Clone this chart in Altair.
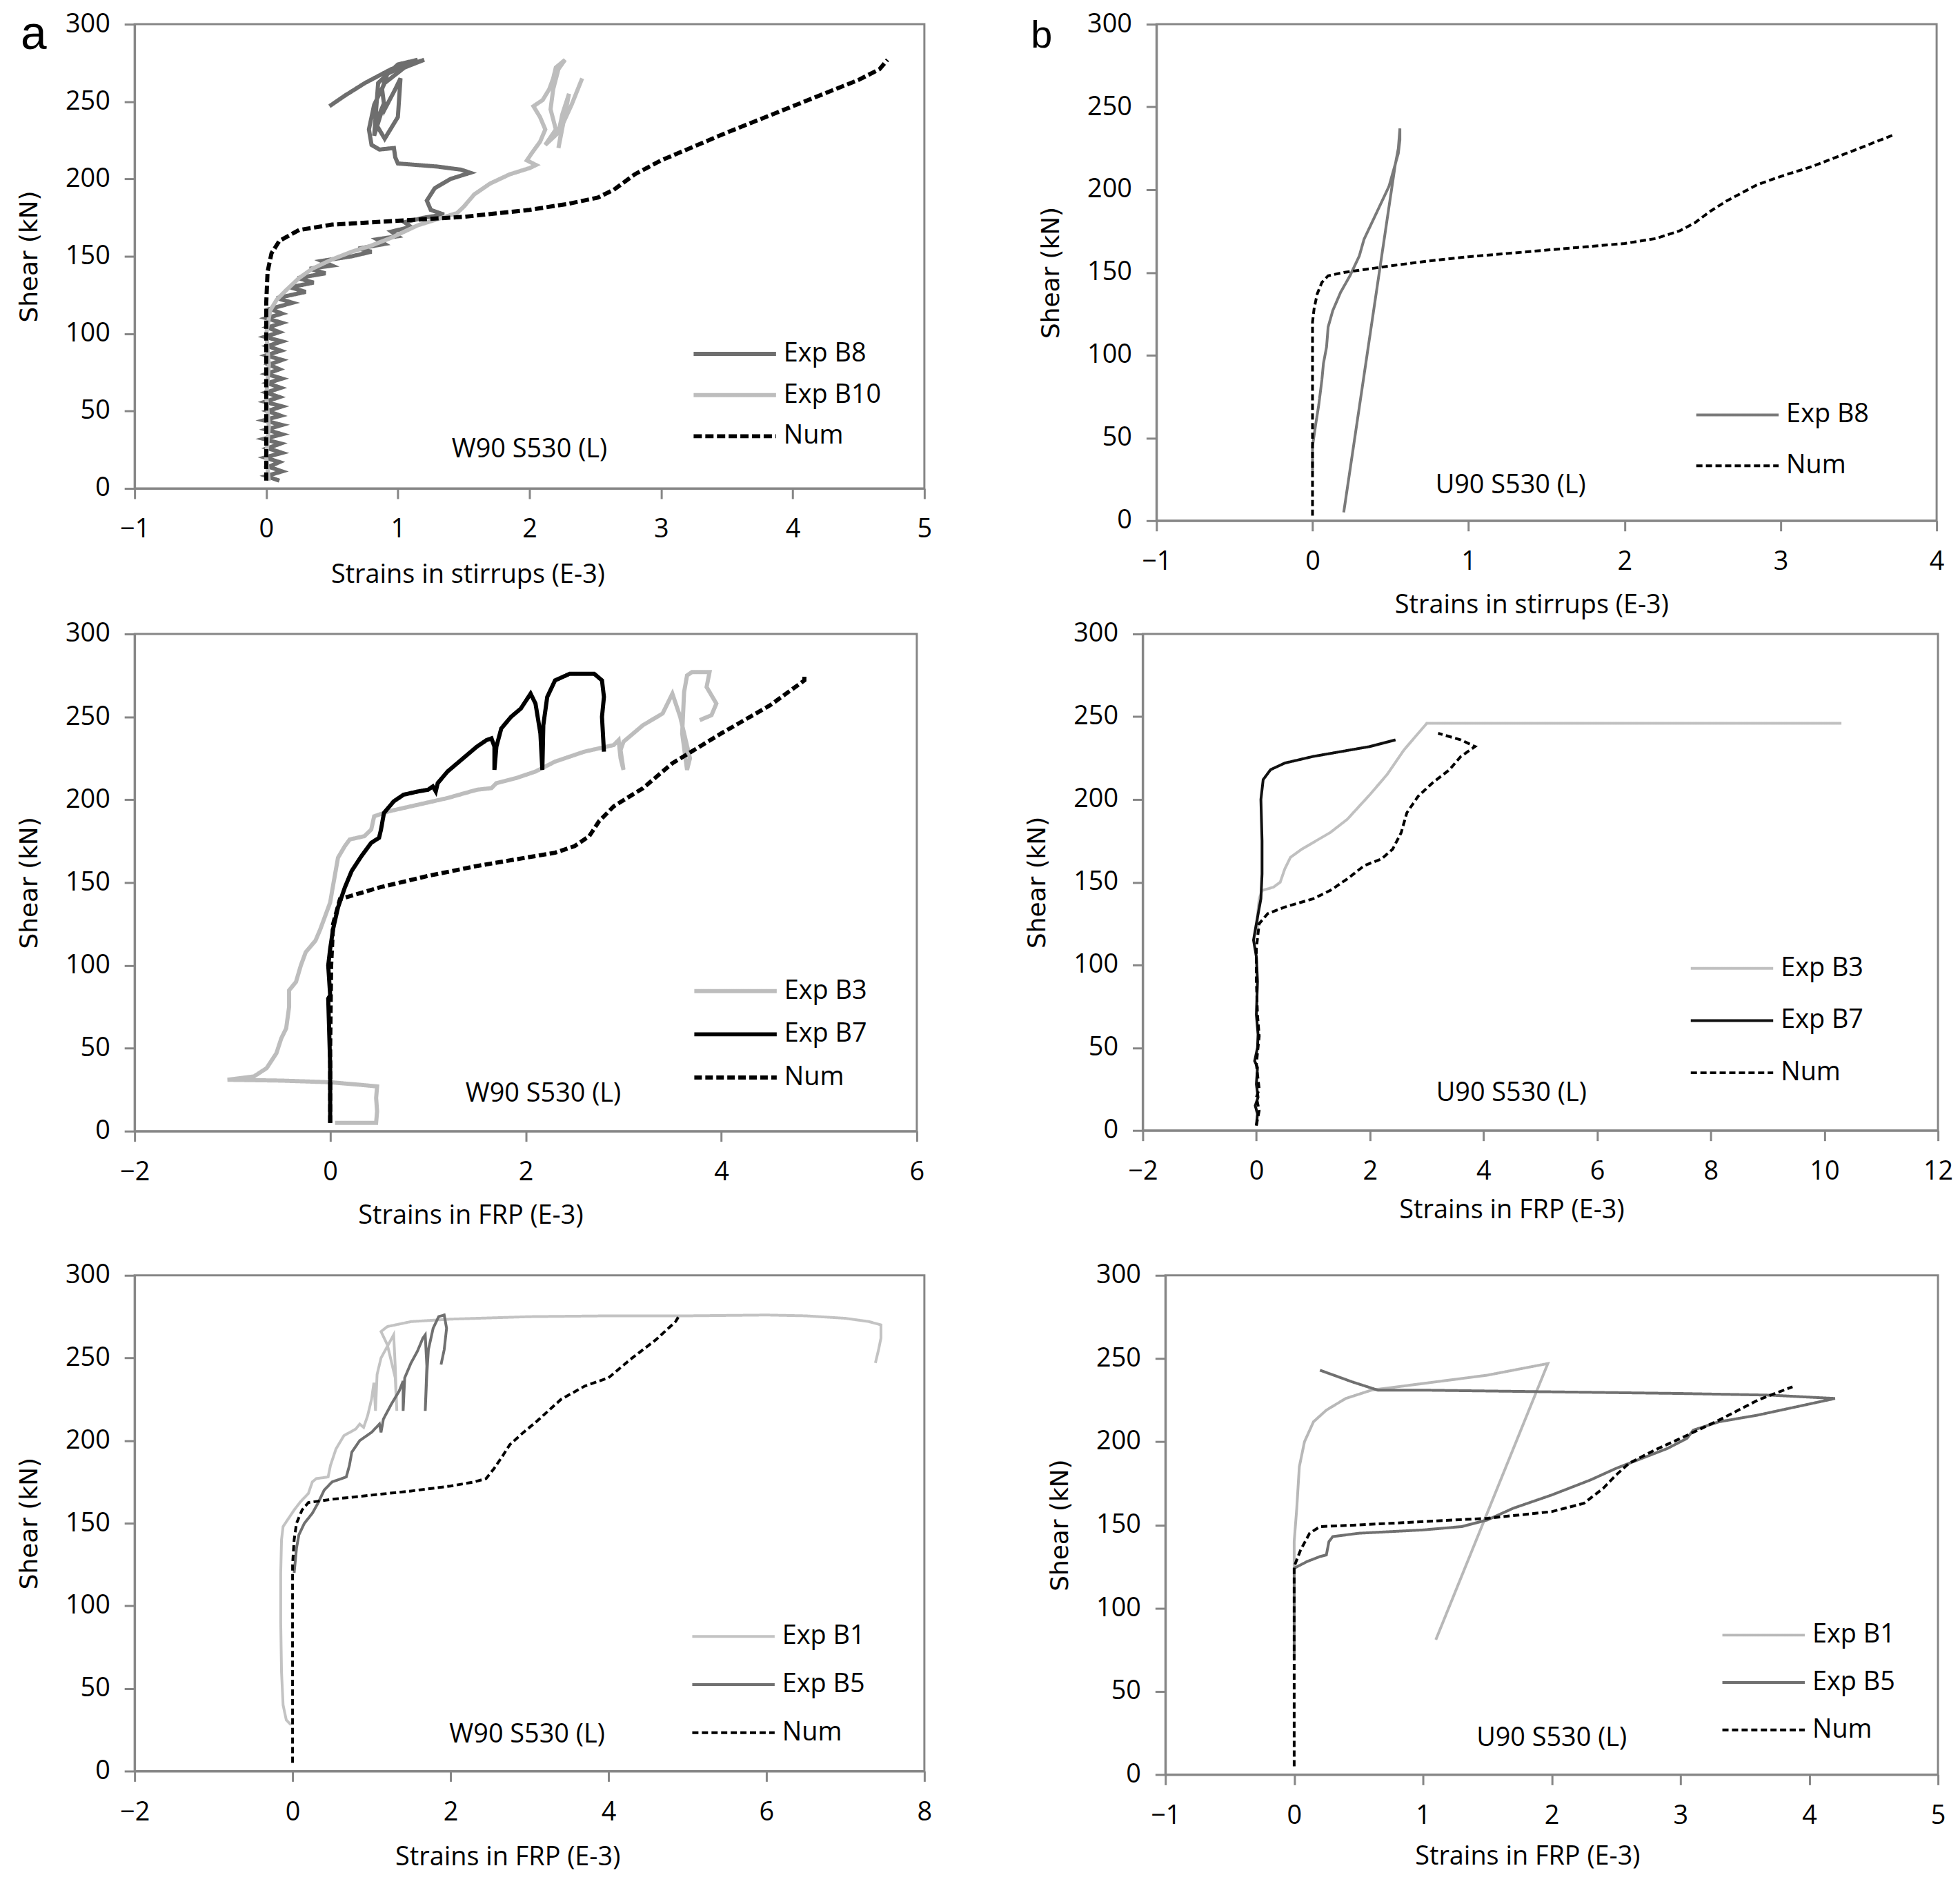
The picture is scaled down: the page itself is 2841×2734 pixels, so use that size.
import altair as alt
import pandas as pd

FONT = "Open Sans"
TITLE_FONT = "DejaVu Sans"
LETTER_FONT = "Liberation Sans"
AXIS_GRAY = "#868686"
Y_TICKS = [0, 50, 100, 150, 200, 250, 300]

# ---------------- panel a (top): W90 S530 (L), strains in stirrups ----------------
A1_B8_X = [0.10, 0.00, 0.12, 0.02, 0.10, -0.01, 0.12, 0.01, 0.11, -0.02, 0.12, 0.00, 0.12, -0.02, 0.11, 0.01,
           0.12, -0.01, 0.10, 0.00, 0.11, 0.01, 0.12, 0.00, 0.10, 0.02, 0.12, 0.00, 0.11, 0.01, 0.12, -0.01,
           0.10, 0.01, 0.12, 0.00, 0.12, 0.03,
           0.20, 0.08, 0.30, 0.18, 0.36, 0.24, 0.45, 0.33, 0.50, 0.42, 0.65, 0.80, 0.70, 0.90, 0.84, 1.00,
           0.95, 1.10, 1.05, 1.20, 1.35, 1.25, 1.22, 1.28, 1.40, 1.55, 1.48, 1.30, 1.15, 1.00, 0.98, 0.97,
           0.86, 0.80, 0.78, 0.82, 0.90, 1.05, 1.20, 1.05, 0.92, 0.88, 0.90, 0.98, 1.02, 1.00, 0.90, 0.83,
           0.90, 0.82, 0.85, 1.00, 1.15, 0.95, 0.75, 0.60, 0.48]
A1_B8_Y = [5, 8, 11, 14, 17, 20, 23, 26, 29, 32, 35, 38, 41, 44, 47, 50,
           53, 56, 59, 62, 65, 68, 71, 74, 77, 80, 83, 86, 89, 92, 95, 98,
           101, 104, 107, 110, 113, 116,
           120, 123, 127, 130, 133, 136, 139, 142, 144, 147, 150, 153, 155, 158, 161, 163,
           166, 169, 172, 175, 177, 180, 186, 194, 200, 204, 206, 208, 209, 210, 214, 220,
           219, 222, 232, 248, 262, 272, 277, 273, 268, 258, 245, 258, 265, 240, 226, 236,
           250, 228, 262, 274, 277, 271, 262, 254, 247]
A1_B10_X = [0.02, 0.00, 0.02, 0.00, 0.02, 0.00, 0.03, 0.08, 0.15, 0.25, 0.35, 0.50, 0.65, 0.80, 0.95, 1.05,
            1.15, 1.30, 1.45, 1.50, 1.58, 1.70, 1.85, 2.00, 2.05, 1.98, 2.02, 2.08, 2.12, 2.08, 2.03, 2.10,
            2.15, 2.18, 2.20, 2.27, 2.22, 2.18, 2.16, 2.20, 2.12, 2.22, 2.25, 2.30, 2.22, 2.25, 2.32, 2.40]
A1_B10_Y = [5, 20, 40, 60, 80, 100, 115, 122, 128, 136, 142, 148, 153, 157, 162, 166,
            170, 174, 178, 182, 190, 197, 203, 207, 209, 212, 217, 224, 232, 240, 247, 251,
            258, 265, 272, 277, 271, 258, 245, 232, 222, 230, 242, 255, 220, 235, 248, 265]
A1_NUM_X = [0.00, 0.00, 0.00, 0.00, 0.01, 0.04, 0.10, 0.25, 0.50, 1.00, 1.50, 2.00, 2.30, 2.52, 2.64, 2.80,
            3.00, 3.50, 4.00, 4.50, 4.66, 4.72]
A1_NUM_Y = [5, 40, 80, 120, 140, 152, 160, 167, 170.5, 173, 175.5, 180, 184, 188, 193, 203,
            212, 230, 247, 264, 271, 277]

# ---------------- panel b (top): U90 S530 (L), strains in stirrups ----------------
B1_B8_X = [0.00, 0.00, 0.02, 0.04, 0.06, 0.07, 0.09, 0.10, 0.13, 0.18, 0.24, 0.30, 0.33, 0.38, 0.44, 0.49,
           0.52, 0.55, 0.56, 0.56, 0.55, 0.53, 0.20]
B1_B8_Y = [30, 45, 58, 70, 85, 95, 105, 117, 127, 138, 148, 160, 170, 180, 192, 202,
           212, 222, 230, 237, 225, 215, 5]
B1_NUM_X = [0.00, 0.00, 0.00, 0.01, 0.03, 0.06, 0.10, 0.20, 0.35, 0.50, 0.75, 1.00, 1.25, 1.50, 1.75, 2.00,
            2.20, 2.35, 2.45, 2.55, 2.65, 2.75, 2.85, 3.00, 3.20, 3.45, 3.72]
B1_NUM_Y = [3, 60, 120, 128, 137, 144, 148, 150, 152, 154, 157, 159.5, 161.5, 163.5, 165.5, 167.5,
            170.5, 175, 180, 187, 193, 198, 203, 208, 214, 223, 233]

# ---------------- panel a (middle): W90 S530 (L), strains in FRP ----------------
A2_B3_X = [0.05, 0.47, 0.48, 0.47, 0.48, 0.30, 0.00, -0.50, -1.05, -0.78, -0.65, -0.55, -0.50, -0.45, -0.42, -0.42,
           -0.35, -0.30, -0.25, -0.15, -0.10, -0.05, 0.00, 0.02, 0.05, 0.08, 0.15, 0.20, 0.35, 0.42, 0.45, 0.60,
           0.90, 1.20, 1.50, 1.65, 1.70, 1.90, 2.10, 2.30, 2.60, 2.90, 2.95, 2.97, 3.00, 2.97, 3.00, 3.20,
           3.40, 3.50, 3.58, 3.68, 3.65, 3.60, 3.62, 3.65, 3.70, 3.88, 3.85, 3.95, 3.90, 3.78]
A2_B3_Y = [5, 5, 12, 20, 27, 28, 29.5, 30.5, 31, 33, 38, 47, 56, 62, 75, 85,
           90, 100, 108, 115, 122, 130, 138, 145, 155, 165, 172, 176, 178, 182, 190, 193,
           197, 201, 206, 207, 210, 213, 217, 223, 229, 233, 236, 225, 218, 230, 235, 245,
           252, 264, 250, 225, 218, 240, 265, 275, 277, 277, 268, 258, 251, 248]
A2_B7_X = [0.00, 0.00, -0.02, 0.00, -0.02, 0.00, 0.03, 0.08, 0.15, 0.22, 0.32, 0.42, 0.50, 0.52, 0.55, 0.65,
           0.75, 0.90, 1.00, 1.05, 1.08, 1.10, 1.20, 1.30, 1.40, 1.50, 1.60, 1.65, 1.68, 1.68, 1.70, 1.75,
           1.85, 1.95, 2.05, 2.10, 2.15, 2.17, 2.18, 2.22, 2.30, 2.45, 2.70, 2.78, 2.80, 2.78, 2.80]
A2_B7_Y = [5, 40, 80, 82, 100, 110, 122, 135, 147, 157, 166, 174, 177, 182, 192, 199,
           203, 205, 206, 208, 205, 210, 217, 222, 227, 232, 236, 237, 232, 218, 232, 243,
           250, 255, 264, 258, 240, 218, 245, 262, 272, 276, 276, 272, 262, 250, 229]
A2_NUM_X = [0.00, 0.00, 0.01, 0.03, 0.10, 0.50, 1.00, 1.50, 2.00, 2.30, 2.50, 2.65, 2.75, 2.90, 3.20, 3.50,
            4.00, 4.50, 4.85, 4.85]
A2_NUM_Y = [5, 50, 100, 125, 140, 147, 154, 160, 165, 168, 172, 178, 187, 196, 207, 222,
            240, 257, 272, 275]

# ---------------- panel b (middle): U90 S530 (L), strains in FRP ----------------
B2_B3_X = [0.02, 0.02, 0.05, 0.10, 0.30, 0.42, 0.50, 0.60, 0.80, 1.00, 1.30, 1.60, 2.00, 2.30, 2.60, 3.00, 10.30]
B2_B3_Y = [118, 130, 140, 145, 147, 150, 158, 165, 170, 174, 180, 188, 203, 215, 230, 246, 246]
B2_B7_X = [0.00, 0.02, -0.02, 0.03, 0.00, 0.02, -0.03, 0.02, 0.03, 0.00, 0.02, 0.00, -0.05, 0.00, 0.08, 0.10,
           0.10, 0.08, 0.12, 0.25, 0.50, 1.00, 1.50, 2.00, 2.45]
B2_B7_Y = [3, 10, 15, 20, 28, 38, 42, 50, 58, 70, 90, 105, 115, 125, 140, 155,
           175, 200, 212, 218, 222, 226, 229, 232, 236]
B2_NUM_X = [0.00, 0.05, 0.00, 0.05, 0.00, 0.05, 0.02, 0.00, 0.00, 0.05, 0.20, 0.50, 1.00, 1.30, 1.60, 1.90,
            2.20, 2.40, 2.55, 2.65, 2.85, 3.10, 3.40, 3.60, 3.85, 3.60, 3.20]
B2_NUM_Y = [3, 12, 20, 25, 40, 57, 70, 90, 110, 125, 131, 135, 140, 145, 152, 160,
            164, 170, 180, 192, 202, 210, 218, 226, 232, 236, 240]

# ---------------- panel a (bottom): W90 S530 (L), strains in FRP ----------------
A3_B1_X = [-0.02, -0.08, -0.12, -0.14, -0.15, -0.15, -0.14, -0.12, -0.05, 0.02, 0.10, 0.20, 0.25, 0.30, 0.45, 0.48,
           0.55, 0.65, 0.80, 0.85, 0.90, 0.95, 1.00, 1.03, 1.05, 1.07, 1.12, 1.20, 1.28, 1.30, 1.32, 1.30,
           1.20, 1.12, 1.20, 1.50, 2.00, 3.00, 4.00, 5.00, 6.00, 6.50, 7.00, 7.30, 7.45, 7.45, 7.42, 7.38]
A3_B1_Y = [28, 31, 40, 60, 90, 120, 140, 148, 153, 158, 163, 168, 175, 177, 178, 185,
           195, 203, 207, 210, 208, 215, 225, 235, 218, 240, 250, 257, 264, 245, 218, 238,
           258, 266, 269, 272, 273.5, 275, 275.5, 275.5, 276, 275.5, 274, 272, 270, 262, 255, 247]
A3_B5_X = [0.02, 0.05, 0.08, 0.15, 0.25, 0.32, 0.40, 0.50, 0.68, 0.72, 0.75, 0.85, 1.00, 1.10, 1.12, 1.15,
           1.25, 1.35, 1.40, 1.40, 1.42, 1.50, 1.58, 1.65, 1.68, 1.70, 1.68, 1.70, 1.72, 1.78, 1.85, 1.92,
           1.95, 1.92, 1.88]
A3_B5_Y = [120, 135, 143, 150, 156, 162, 170, 175, 178, 185, 193, 200, 205, 210, 205, 213,
           222, 230, 236, 218, 238, 247, 254, 262, 264, 245, 218, 240, 255, 268, 275, 276,
           268, 255, 246]
A3_NUM_X = [0.00, 0.00, 0.00, 0.02, 0.05, 0.12, 0.20, 0.50, 1.00, 1.50, 2.00, 2.30, 2.45, 2.55, 2.65, 2.75,
            2.90, 3.10, 3.40, 3.70, 4.00, 4.30, 4.60, 4.85, 4.90]
A3_NUM_Y = [5, 60, 125, 140, 150, 158, 162.5, 164.5, 167, 169.5, 172.5, 175, 177, 183, 190, 197.5,
            204, 212, 225, 233, 238, 250, 261, 272, 276]

# ---------------- panel b (bottom): U90 S530 (L), strains in FRP ----------------
B3_B1_X = [0.00, 0.00, 0.02, 0.04, 0.08, 0.15, 0.25, 0.40, 0.60, 1.00, 1.50, 1.97, 1.10]
B3_B1_Y = [125, 140, 160, 185, 200, 212, 219, 226, 231, 235, 240, 247, 81]
B3_B5_X = [0.00, 0.00, 0.10, 0.20, 0.25, 0.27, 0.30, 0.50, 1.00, 1.30, 1.50, 1.70, 2.00, 2.30, 2.50, 2.70,
           2.90, 3.05, 3.10, 3.30, 3.60, 3.90, 4.20, 3.70, 3.00, 2.00, 1.00, 0.65, 0.45, 0.20]
B3_B5_Y = [70, 124, 128, 131, 132, 140, 143, 145, 147, 149, 153, 160, 168, 177, 184, 190,
           196, 202, 207, 212, 216, 221, 226, 228, 229, 230, 231, 231, 236, 243]
B3_NUM_X = [0.00, 0.00, 0.00, 0.05, 0.12, 0.20, 0.50, 1.00, 1.50, 2.00, 2.25, 2.40, 2.50, 2.60, 2.80, 3.00,
            3.30, 3.60, 3.87]
B3_NUM_Y = [5, 60, 125, 135, 145, 149, 150, 152, 154, 158, 163, 172, 180, 187, 195, 202,
            213, 225, 233]

TXT = 38  # font size of the Calibri-like texts


def make_panel(series, colors, dashes, sw, xdom, xticks, xtitle, xtitle_x, width, height,
               legend_xy, row_pad, note, note_xy, x_title_pad, letter=None):
    rows = []
    for name, xs, ys in series:
        for i, (xv, yv) in enumerate(zip(xs, ys)):
            rows.append({"x": xv, "y": yv, "series": name, "order": i})
    df = pd.DataFrame(rows)
    names = [s[0] for s in series]
    leg = alt.Legend(title=None, orient="none", legendX=legend_xy[0], legendY=legend_xy[1],
                     symbolType="M-6,0L6,0", symbolSize=400, symbolStrokeWidth=sw,
                     labelFont=FONT, labelFontSize=TXT, labelColor="black",
                     labelOffset=52, rowPadding=row_pad, padding=0, labelLimit=400)
    xaxis = alt.Axis(values=xticks, title=xtitle, format="d", labelFlush=False, labelOverlap=False,
                     tickSize=15, labelPadding=26, titlePadding=x_title_pad,
                     titleX=xtitle_x, titleAlign="center", titleAnchor="start",
                     titleFont=FONT, titleFontSize=TXT, titleFontWeight="normal", titleColor="black")
    yaxis = alt.Axis(values=Y_TICKS, title="Shear (kN)", format="d", labelOverlap=False,
                     tickSize=15, labelPadding=21, titlePadding=33,
                     titleFont=TITLE_FONT, titleFontSize=36, titleFontWeight="normal", titleColor="black")
    lines = alt.Chart(df).mark_line(strokeWidth=sw).encode(
        x=alt.X("x:Q", scale=alt.Scale(domain=xdom, nice=False, zero=False), axis=xaxis),
        y=alt.Y("y:Q", scale=alt.Scale(domain=[0, 300], nice=False, zero=False), axis=yaxis),
        color=alt.Color("series:N", scale=alt.Scale(domain=names, range=colors), legend=leg),
        strokeDash=alt.StrokeDash("series:N", scale=alt.Scale(domain=names, range=dashes), legend=leg),
        order=alt.Order("order:Q"),
    )
    note_df = pd.DataFrame({"x": [note_xy[0]], "y": [note_xy[1]], "t": [note]})
    text = alt.Chart(note_df).mark_text(font=FONT, fontSize=TXT, color="black").encode(
        x="x:Q", y="y:Q", text="t:N")
    layers = [lines, text]
    if letter is not None:
        lt, lx, ly, lsize = letter
        ldf = pd.DataFrame({"t": [lt]})
        layers.append(alt.Chart(ldf).mark_text(font=LETTER_FONT, fontSize=lsize, color="black",
                                              align="left", baseline="top").encode(
            text="t:N", x=alt.value(lx), y=alt.value(ly)))
    return alt.layer(*layers).properties(width=width, height=height)


SOLID = [1, 0]

a1 = make_panel([("Exp B8", A1_B8_X, A1_B8_Y), ("Exp B10", A1_B10_X, A1_B10_Y), ("Num", A1_NUM_X, A1_NUM_Y)],
                ["#6e6e6e", "#bdbdbd", "#000000"], [SOLID, SOLID, [12, 5]], 6,
                [-1, 5], [-1, 0, 1, 2, 3, 4, 5], "Strains in stirrups (E-3)", 485, 1150, 676,
                (855, 461), 22, "W90 S530 (L)", (2.0, 25), 28, letter=("a", -166, -18, 68))
b1 = make_panel([("Exp B8", B1_B8_X, B1_B8_Y), ("Num", B1_NUM_X, B1_NUM_Y)],
                ["#7a7a7a", "#000000"], [SOLID, [9, 5]], 4,
                [-1, 4], [-1, 0, 1, 2, 3, 4], "Strains in stirrups (E-3)", 546, 1136, 723,
                (827, 550), 36, "U90 S530 (L)", (1.27, 21), 25, letter=("b", -183, -10, 56))
a2 = make_panel([("Exp B3", A2_B3_X, A2_B3_Y), ("Exp B7", A2_B7_X, A2_B7_Y), ("Num", A2_NUM_X, A2_NUM_Y)],
                ["#bdbdbd", "#000000", "#000000"], [SOLID, SOLID, [11, 5]], 6,
                [-2, 6], [-2, 0, 2, 4, 6], "Strains in FRP (E-3)", 489, 1139, 724,
                (856, 501), 25, "W90 S530 (L)", (2.18, 22.5), 25)
b2 = make_panel([("Exp B3", B2_B3_X, B2_B3_Y), ("Exp B7", B2_B7_X, B2_B7_Y), ("Num", B2_NUM_X, B2_NUM_Y)],
                ["#c0c0c0", "#111111", "#000000"], [SOLID, SOLID, [9, 5]], 4,
                [-2, 12], [-2, 0, 2, 4, 6, 8, 10, 12], "Strains in FRP (E-3)", 537, 1158, 723,
                (839, 468), 38, "U90 S530 (L)", (4.49, 22.5), 18)
a3 = make_panel([("Exp B1", A3_B1_X, A3_B1_Y), ("Exp B5", A3_B5_X, A3_B5_Y), ("Num", A3_NUM_X, A3_NUM_Y)],
                ["#c3c3c3", "#707070", "#000000"], [SOLID, SOLID, [9, 5]], 4,
                [-2, 8], [-2, 0, 2, 4, 6, 8], "Strains in FRP (E-3)", 543, 1150, 722,
                (853, 507), 32, "W90 S530 (L)", (2.97, 22), 28)
b3 = make_panel([("Exp B1", B3_B1_X, B3_B1_Y), ("Exp B5", B3_B5_X, B3_B5_Y), ("Num", B3_NUM_X, B3_NUM_Y)],
                ["#b8b8b8", "#707070", "#000000"], [SOLID, SOLID, [9, 5]], 4,
                [-1, 5], [-1, 0, 1, 2, 3, 4, 5], "Strains in FRP (E-3)", 527, 1125, 727,
                (852, 505), 31, "U90 S530 (L)", (2.0, 21.7), 22)

IND = dict(color="independent", strokeDash="independent", x="independent", y="independent")

row1 = alt.hconcat(a1, b1, spacing=140).resolve_scale(**IND)
row2 = alt.hconcat(a2, b2, spacing=143).resolve_scale(**IND)
row3 = alt.hconcat(a3, b3, spacing=165).resolve_scale(**IND)

top = alt.vconcat(row1, row2, spacing=0).resolve_scale(**IND)
chart = alt.vconcat(top, row3, spacing=45,
                    padding={"left": 15, "top": 0, "right": 0, "bottom": 0}).resolve_scale(**IND)

chart = chart.configure(background="white").configure_view(
    stroke=AXIS_GRAY, strokeWidth=3
).configure_axis(
    domainColor=AXIS_GRAY, domainWidth=3, tickColor=AXIS_GRAY, tickWidth=3,
    labelFont=FONT, labelFontSize=TXT, labelColor="black", grid=False
)

chart.save("out.html", embed_options={"renderer": "svg", "actions": False})
